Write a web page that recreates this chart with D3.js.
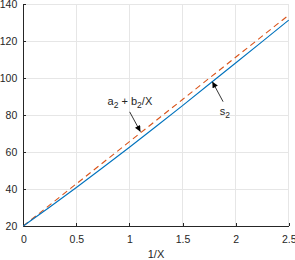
<!DOCTYPE html>
<html>
  <head>
    <meta charset="utf-8">
    <script src="https://cdn.jsdelivr.net/npm/d3@7"></script>
    <style type="text/css">
      body { margin: 0; background: #fff; }
      .axis path, .axis line { stroke: #262626; shape-rendering: crispEdges; }
      .axis text { font-family: "Liberation Sans", Arial, sans-serif; font-size: 10.5px; fill: #262626; }
      .grid line { stroke: #e6e6e6; shape-rendering: crispEdges; }
      .note { font-family: "Liberation Sans", Arial, sans-serif; font-size: 11px; fill: #262626; }
    </style>
  </head>
  <body>
    <div class="plot_canvas"></div>
    <script>
      // data
      var invX = [0, 0.25, 0.5, 0.75, 1, 1.25, 1.5, 1.75, 2, 2.25, 2.5];
      var s2 = [20, 30.3, 40.8, 51.6, 62.6, 73.8, 85.1, 96.6, 108.1, 119.7, 131.3];
      var fit = [20, 31.4, 42.8, 54.2, 65.6, 77, 88.4, 99.8, 111.2, 122.6, 134];
      var xTicks = [0, 0.5, 1, 1.5, 2, 2.5];
      var yTicks = [20, 40, 60, 80, 100, 120, 140];

      var width = 295, height = 260;
      var margin = {top: 4, right: 7, bottom: 34, left: 23};

      var xScale = d3.scaleLinear()
        .domain([0, 2.5])
        .range([margin.left + 0.3, width - margin.right + 0.7]);

      var yScale = d3.scaleLinear()
        .domain([20, 140])
        .range([height - margin.bottom, margin.top]);

      var svg = d3.select(".plot_canvas").append("svg")
        .attr("width", width)
        .attr("height", height);

      // grid
      var grid = svg.append("g").attr("class", "grid");
      grid.selectAll(".gx").data(xTicks).enter().append("line")
        .attr("x1", function(d) { return xScale(d); })
        .attr("x2", function(d) { return xScale(d); })
        .attr("y1", yScale(20)).attr("y2", yScale(140));
      grid.selectAll(".gy").data(yTicks).enter().append("line")
        .attr("x1", xScale(0)).attr("x2", xScale(2.5))
        .attr("y1", function(d) { return yScale(d); })
        .attr("y2", function(d) { return yScale(d); });

      // axes (ticks inside, like matlab)
      var xAxis = d3.axisBottom(xScale).tickValues(xTicks)
        .tickSizeInner(-3).tickSizeOuter(0).tickPadding(10)
        .tickFormat(d3.format("~g"));
      var yAxis = d3.axisLeft(yScale).tickValues(yTicks)
        .tickSizeInner(-3).tickSizeOuter(0).tickPadding(6);

      svg.append("g").attr("class", "x axis")
        .attr("transform", "translate(0," + yScale(20) + ")")
        .call(xAxis);
      svg.append("g").attr("class", "y axis")
        .attr("transform", "translate(" + xScale(0) + ",0)")
        .call(yAxis);

      svg.append("text").attr("class", "note")
        .attr("x", xScale(1.25)).attr("y", height - 2)
        .attr("text-anchor", "middle")
        .text("1/X");

      // lines
      var line = d3.line()
        .x(function(d, i) { return xScale(invX[i]); })
        .y(function(d) { return yScale(d); });

      svg.append("path")
        .attr("d", line(fit))
        .attr("fill", "none")
        .attr("stroke", "#D95319")
        .attr("stroke-width", 1.1)
        .attr("stroke-dasharray", "6,4");

      svg.append("path")
        .attr("d", line(s2))
        .attr("fill", "none")
        .attr("stroke", "#0072BD")
        .attr("stroke-width", 1.1);

      // annotations (data coords)
      var notes = [
        {base: "a", sub: "2", rest: " + ", base2: "b", sub2: "2", tail: "/X", tx: 0.794, ty: 85.4,
         x1: 1.002, y1: 81.7, x2: 1.103, y2: 71.0},
        {base: "s", sub: "2", tx: 1.85, ty: 80.0,
         x1: 1.882, y1: 87.2, x2: 1.781, y2: 98.0}
      ];

      svg.append("defs").append("marker")
        .attr("id", "head")
        .attr("viewBox", "0 0 10 10")
        .attr("refX", 10).attr("refY", 5)
        .attr("markerWidth", 7).attr("markerHeight", 6)
        .attr("markerUnits", "userSpaceOnUse")
        .attr("orient", "auto")
        .append("path")
        .attr("d", "M0,0 L10,5 L0,10 Z")
        .attr("fill", "#000");

      notes.forEach(function(n) {
        svg.append("line")
          .attr("x1", xScale(n.x1)).attr("y1", yScale(n.y1))
          .attr("x2", xScale(n.x2)).attr("y2", yScale(n.y2))
          .attr("stroke", "#000").attr("stroke-width", 0.8)
          .attr("marker-end", "url(#head)");

        var t = svg.append("text").attr("class", "note")
          .attr("x", xScale(n.tx)).attr("y", yScale(n.ty));
        t.append("tspan").text(n.base);
        t.append("tspan").attr("dy", 3).attr("font-size", "8.5px").text(n.sub);
        if (n.rest) {
          t.append("tspan").attr("dy", -3).text(n.rest);
          t.append("tspan").text(n.base2);
          t.append("tspan").attr("dy", 3).attr("font-size", "8.5px").text(n.sub2);
          t.append("tspan").attr("dy", -3).text(n.tail);
        }
      });
    </script>
  </body>
</html>
